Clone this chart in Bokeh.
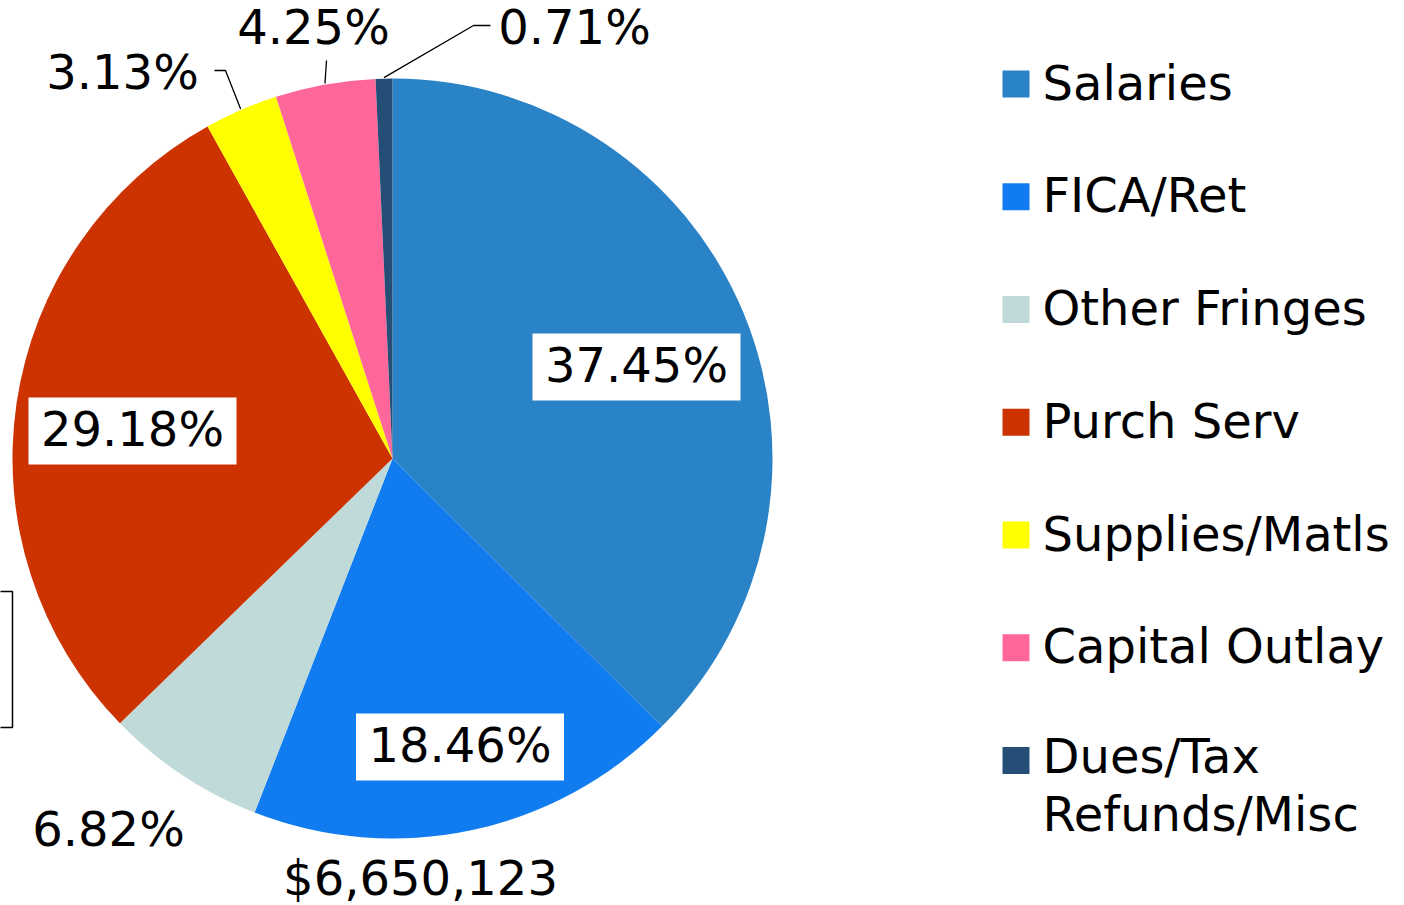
import math
from bokeh.plotting import figure
from bokeh.models import Range1d, ColumnDataSource
from bokeh.core.properties import value
from bokeh.embed import file_html
from bokeh.resources import INLINE

# ---------------- data ----------------
categories = ["Salaries", "FICA/Ret", "Other Fringes", "Purch Serv",
              "Supplies/Matls", "Capital Outlay", "Dues/Tax\nRefunds/Misc"]
percents = [37.45, 18.46, 6.82, 29.18, 3.13, 4.25, 0.71]
colors = ["#2A83C6", "#107CEF", "#C0DAD9", "#CC3300", "#FFFF00", "#FF6699", "#254E77"]
fica_amount = 6650123

# ---------------- layout (screen-pixel-like coordinates) ----------------
W, H = 1404, 905
def sy(y):  # screen y -> data y
    return H - y

BFIX = 20  # empirical correction for the alphabetic baseline in svg output
def ty(baseline):
    return sy(baseline - BFIX)

cx, cy, R = 392, sy(458), 380
FONT = value("DejaVu Sans")
FS = "48px"

p = figure(width=W, height=H, output_backend="svg", toolbar_location=None,
           x_range=Range1d(0, W), y_range=Range1d(0, H),
           min_border=0, outline_line_color=None)
p.axis.visible = False
p.grid.visible = False
p.background_fill_color = "white"
p.border_fill_color = "white"

# wedges, clockwise from 12 o'clock
total = sum(percents)
starts, ends, mids = [], [], []
cum = 0.0
for v in percents:
    a0 = math.pi / 2 - 2 * math.pi * cum / total
    cum += v
    a1 = math.pi / 2 - 2 * math.pi * cum / total
    starts.append(a0)
    ends.append(a1)
    mids.append((a0 + a1) / 2)

src = ColumnDataSource(dict(start=starts, end=ends, color=colors))
p.wedge(x=cx, y=cy, radius=R, start_angle="start", end_angle="end",
        direction="clock", fill_color="color", line_color=None, source=src)

labels = [f"{v:.2f}%" for v in percents]

# boxed labels (inside slices): index -> (center x, center screen y)
boxed = {0: (636, 366.5), 1: (459.5, 746.5), 3: (132, 430.5)}
bx = [boxed[i][0] for i in boxed]
by = [sy(boxed[i][1]) for i in boxed]
p.rect(x=bx, y=by, width=208, height=67, fill_color="white", line_color=None)
p.text(x=bx, y=[ty(boxed[i][1] + 17.5) for i in boxed], text=[labels[i] for i in boxed],
       text_font=FONT, text_font_size=FS, text_align="center",
       text_baseline="alphabetic", text_color="black")

# outside labels: index -> (center x, baseline screen y)
outside = {2: (108, 848), 4: (122, 91), 5: (313, 46), 6: (574, 46)}
p.text(x=[outside[i][0] for i in outside], y=[ty(outside[i][1]) for i in outside],
       text=[labels[i] for i in outside], text_font=FONT, text_font_size=FS,
       text_align="center", text_baseline="alphabetic", text_color="black")

# dollar label
p.text(x=[420], y=[ty(897)], text=[f"${fica_amount:,}"], text_font=FONT,
       text_font_size=FS, text_align="center", text_baseline="alphabetic",
       text_color="black")

# leader lines: elbows (layout) + end point on pie edge at slice mid-angle
elbows = {4: [(214, 70), (225, 70)], 5: [(326, 60)], 6: [(490, 25), (473, 25)]}
xs, ys = [], []
for i, pts in elbows.items():
    ex = cx + (R + 1) * math.cos(mids[i])
    ey = cy + (R + 1) * math.sin(mids[i])
    xs.append([q[0] for q in pts] + [ex])
    ys.append([sy(q[1]) for q in pts] + [ey])
p.multi_line(xs=xs, ys=ys, line_color="black", line_width=1.3)

# stray box at the left edge
p.quad(left=[-10], right=[12], top=[sy(591)], bottom=[sy(727)],
       fill_color=None, line_color="black", line_width=1.5)

# legend
leg_y = [83.5 + i * 112.75 for i in range(len(categories))]
p.scatter(x=[1015.5] * len(categories), y=[sy(v) for v in leg_y], marker="square",
          size=27, fill_color=colors, line_color=None)
tx, tyy, tt = [], [], []
for name, c in zip(categories, leg_y):
    lines = name.split("\n")
    first = c + (18.5 if len(lines) == 1 else 15)
    for k, ln in enumerate(lines):
        tx.append(1042)
        tyy.append(ty(first + 58 * k))
        tt.append(ln)
p.text(x=tx, y=tyy, text=tt, text_font=FONT, text_font_size=FS, text_align="left",
       text_baseline="alphabetic", text_color="black")

open("out.html", "w").write(file_html(p, INLINE))
